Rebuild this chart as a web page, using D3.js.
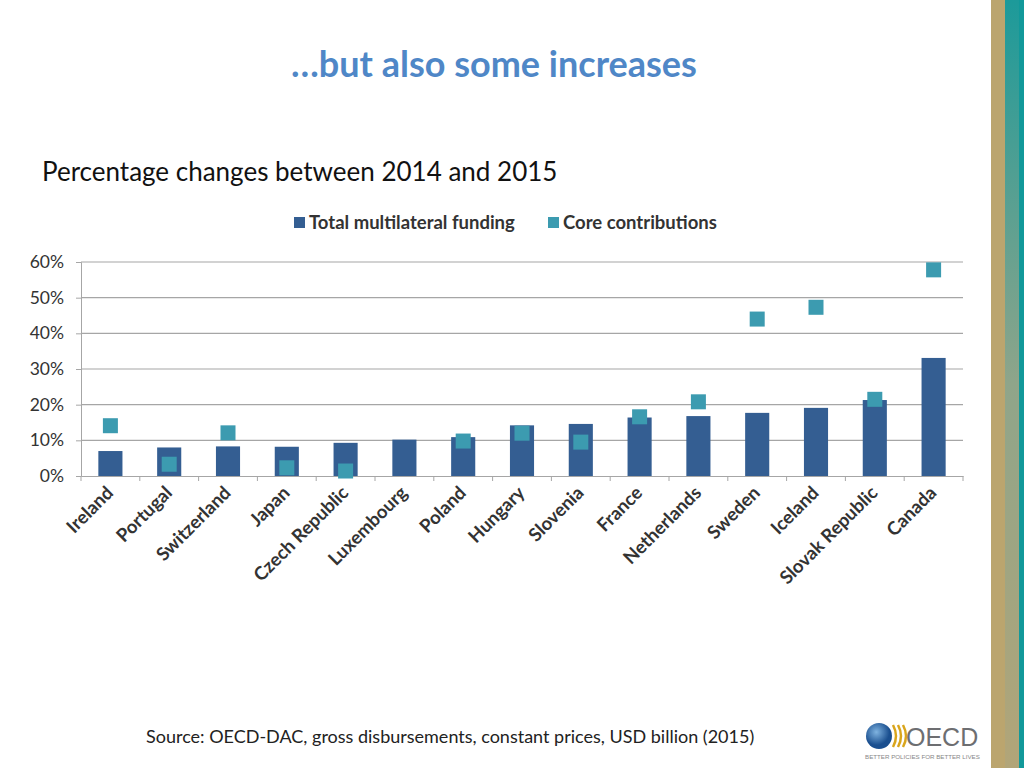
<!DOCTYPE html>
<html><head><meta charset="utf-8">
<script src="https://cdn.jsdelivr.net/npm/d3@7"></script>
<style>body{margin:0;background:#fff;}svg{display:block;}</style>
</head><body>
<svg id="c" width="1024" height="768"></svg>
<script>
const categories = ["Ireland","Portugal","Switzerland","Japan","Czech Republic","Luxembourg","Poland","Hungary","Slovenia","France","Netherlands","Sweden","Iceland","Slovak Republic","Canada"];
const totalFunding = [7.0, 8.0, 8.3, 8.2, 9.3, 10.2, 10.9, 14.2, 14.6, 16.4, 16.8, 17.7, 19.1, 21.3, 33.1];
const coreContributions = [14.1, 3.3, 12.1, 2.3, 1.4, null, 9.8, 12.0, 9.5, 16.6, 20.8, 44.0, 47.3, 21.5, 57.8];
const yTicks = [0, 10, 20, 30, 40, 50, 60];
const seriesNames = ["Total multilateral funding", "Core contributions"];

const svg = d3.select("#c");
const FONT = "Lato, 'Open Sans', sans-serif";
const barColor = "#345e92", coreColor = "#3c9bb0";

// right decorative stripes
const defs = svg.append("defs");
const g1 = defs.append("linearGradient").attr("id","tg").attr("x1",0).attr("x2",0).attr("y1",0).attr("y2",1);
g1.append("stop").attr("offset","0%").attr("stop-color","#1c9a9a");
g1.append("stop").attr("offset","50%").attr("stop-color","#8fa58a");
g1.append("stop").attr("offset","100%").attr("stop-color","#b2a578");
svg.append("rect").attr("x",991).attr("y",0).attr("width",14).attr("height",768).attr("fill","#bba56e");
svg.append("rect").attr("x",1005).attr("y",0).attr("width",14).attr("height",768).attr("fill","url(#tg)");
svg.append("rect").attr("x",1019).attr("y",0).attr("width",5).attr("height",768).attr("fill","#12999a");

// titles
svg.append("text").attr("x",494).attr("y",77).attr("text-anchor","middle")
  .attr("font-family",FONT).attr("font-weight","bold").attr("font-size",36).attr("fill","#4f87c7")
  .text("…but also some increases");
svg.append("text").attr("x",42).attr("y",181).attr("font-family",FONT).attr("font-size",26).attr("fill","#111")
  .text("Percentage changes between 2014 and 2015");

const m = {l:81, r:963, t:262, b:476};
const x = d3.scaleBand().domain(categories).range([m.l, m.r]).paddingInner(0.59).paddingOuter(0.295);
const xc = d3.scaleBand().domain(categories).range([m.l, m.r]);
const y = d3.scaleLinear().domain([0, 60]).range([m.b, m.t]);

// gridlines
svg.append("g").selectAll("line").data(yTicks.slice(1)).join("line")
  .attr("x1",m.l).attr("x2",m.r).attr("y1",d=>y(d)).attr("y2",d=>y(d))
  .attr("stroke","#a6a6a6").attr("stroke-width",1.2);

// y axis
const ya = svg.append("g").attr("transform",`translate(${m.l},0)`)
  .call(d3.axisLeft(y).tickValues(yTicks).tickFormat(d=>d+"%").tickSize(5).tickPadding(12));
ya.select(".domain").attr("stroke","#a6a6a6");
ya.selectAll(".tick line").attr("stroke","#a6a6a6");
ya.selectAll("text").attr("font-family",FONT).attr("font-size",17.5).attr("fill","#333");

// bars
svg.append("g").selectAll("rect").data(categories).join("rect")
  .attr("x",d=>x(d)).attr("width",x.bandwidth())
  .attr("y",(d,i)=>y(totalFunding[i])).attr("height",(d,i)=>y(0)-y(totalFunding[i]))
  .attr("fill",barColor);

// x axis
const xa = svg.append("g").attr("transform",`translate(0,${m.b})`)
  .call(d3.axisBottom(xc).tickSize(5).tickSizeOuter(0).tickFormat(""));
xa.select(".domain").attr("stroke","#a6a6a6");
xa.selectAll(".tick line").attr("stroke","#a6a6a6").attr("transform",`translate(${-xc.bandwidth()/2},0)`);
xa.append("line").attr("x1",m.r).attr("x2",m.r).attr("y1",0).attr("y2",5).attr("stroke","#a6a6a6");

// category labels
svg.append("g").selectAll("text").data(categories).join("text")
  .attr("transform",d=>`translate(${xc(d)+xc.bandwidth()/2+4},${m.b+18}) rotate(-45)`)
  .attr("text-anchor","end").attr("font-family",FONT).attr("font-size",18.5).attr("font-weight","bold")
  .attr("fill","#333").text(d=>d);

// core markers
const ms = 15;
svg.append("g").selectAll("rect").data(categories.filter((d,i)=>coreContributions[i]!=null)).join("rect")
  .attr("x",d=>xc(d)+xc.bandwidth()/2-ms/2)
  .attr("y",d=>y(coreContributions[categories.indexOf(d)])-ms/2)
  .attr("width",ms).attr("height",ms).attr("fill",coreColor);

// legend
const lg = svg.append("g").attr("font-family",FONT).attr("font-weight","bold").attr("font-size",18.5).attr("fill","#333");
[[294, barColor, seriesNames[0]],[548, coreColor, seriesNames[1]]].forEach(([lx,c,t])=>{
  lg.append("rect").attr("x",lx).attr("y",217).attr("width",11).attr("height",11).attr("fill",c);
  lg.append("text").attr("x",lx+15).attr("y",229).text(t);
});

// source
svg.append("text").attr("x",146).attr("y",743).attr("font-family",FONT).attr("font-size",18).attr("fill","#222")
  .text("Source: OECD-DAC, gross disbursements, constant prices, USD billion (2015)");

// OECD logo
const lo = svg.append("g");
const gg = defs.append("radialGradient").attr("id","globe").attr("cx","40%").attr("cy","35%");
gg.append("stop").attr("offset","0%").attr("stop-color","#7fb3e0");
gg.append("stop").attr("offset","100%").attr("stop-color","#1a4f8f");
lo.append("circle").attr("cx",879).attr("cy",736).attr("r",13).attr("fill","url(#globe)");
[0,5,10].forEach(dx=>{
  lo.append("path").attr("d",`M${893+dx},725 q6,11 0,22`).attr("fill","none").attr("stroke","#d9a51c").attr("stroke-width",2.5);
});
lo.append("text").attr("x",906).attr("y",746).attr("font-family","'Liberation Sans', Arial, sans-serif")
  .attr("font-size",25).attr("fill","#6d6e71").text("OECD");
lo.append("text").attr("x",865).attr("y",759).attr("font-family","'Liberation Sans', Arial, sans-serif")
  .attr("font-size",6.2).attr("fill","#888").text("BETTER POLICIES FOR BETTER LIVES");
</script>
</body></html>
